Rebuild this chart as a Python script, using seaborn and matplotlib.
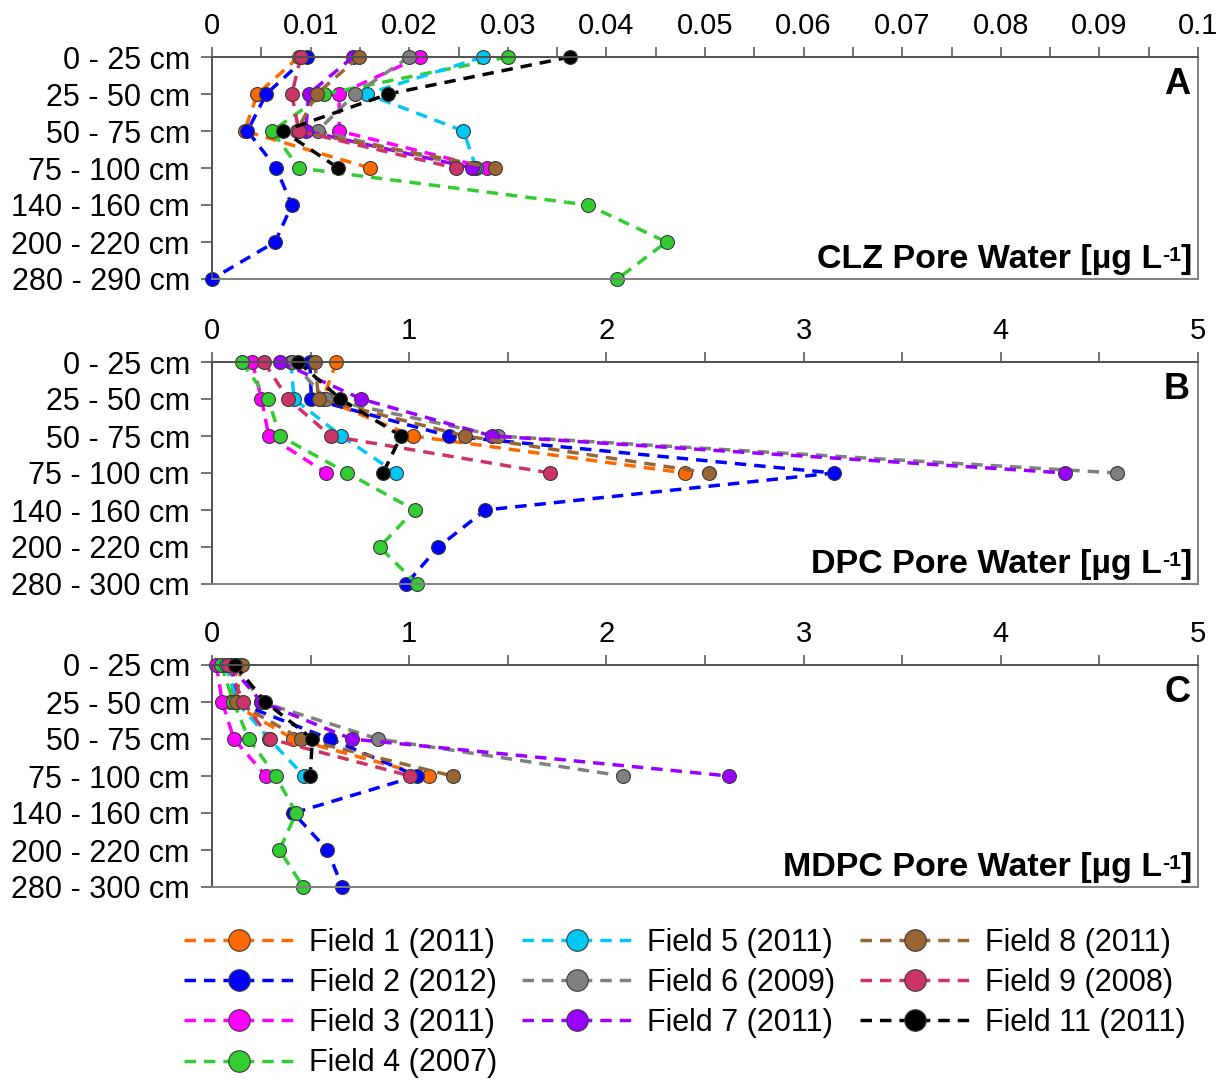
import matplotlib
matplotlib.use("Agg")
import matplotlib.pyplot as plt
from matplotlib.lines import Line2D
from matplotlib.ticker import MultipleLocator, FuncFormatter
import seaborn as sns
import numpy as np

# ---- depth categories -------------------------------------------------
depths_clz = ["0 - 25 cm", "25 - 50 cm", "50 - 75 cm", "75 - 100 cm",
              "140 - 160 cm", "200 - 220 cm", "280 - 290 cm"]
depths_dpc = ["0 - 25 cm", "25 - 50 cm", "50 - 75 cm", "75 - 100 cm",
              "140 - 160 cm", "200 - 220 cm", "280 - 300 cm"]

fields = ["Field 1 (2011)", "Field 2 (2012)", "Field 3 (2011)", "Field 4 (2007)",
          "Field 5 (2011)", "Field 6 (2009)", "Field 7 (2011)", "Field 8 (2011)",
          "Field 9 (2008)", "Field 11 (2011)"]
colors = ["#FF6A00", "#0000FF", "#FF00FF", "#33CC33", "#00C8F5",
          "#808080", "#9900FF", "#996633", "#CC3366", "#000000"]

# ---- CLZ pore water [ug/L] --------------------------------------------
clz_f1 = [0.0088, 0.0046, 0.0033, 0.0160]
clz_f2 = [0.0096, 0.0055, 0.0036, 0.0065, 0.0081, 0.0064, 0.0000]
clz_f3 = [0.0211, 0.0129, 0.0129, 0.0279]
clz_f4 = [0.0300, 0.0114, 0.0061, 0.0088, 0.0381, 0.0461, 0.0411]
clz_f5 = [0.0275, 0.0157, 0.0255, 0.0268]
clz_f6 = [0.0200, 0.0145, 0.0107, 0.0266]
clz_f7 = [0.0143, 0.0098, 0.0095, 0.0264]
clz_f8 = [0.0149, 0.0106, 0.0086, 0.0287]
clz_f9 = [0.0090, 0.0081, 0.0088, 0.0247]
clz_f11 = [0.0363, 0.0179, 0.0072, 0.0128]

# ---- DPC pore water [ug/L] --------------------------------------------
dpc_f1 = [0.631, 0.563, 1.018, 2.397]
dpc_f2 = [0.496, 0.504, 1.204, 3.153, 1.386, 1.148, 0.985]
dpc_f3 = [0.204, 0.251, 0.288, 0.580]
dpc_f4 = [0.150, 0.285, 0.344, 0.686, 1.027, 0.850, 1.039]
dpc_f5 = [0.400, 0.416, 0.656, 0.934]
dpc_f6 = [0.408, 0.577, 1.448, 4.589]
dpc_f7 = [0.344, 0.757, 1.420, 4.328]
dpc_f8 = [0.521, 0.541, 1.283, 2.520]
dpc_f9 = [0.263, 0.386, 0.602, 1.713]
dpc_f11 = [0.437, 0.651, 0.959, 0.867]

# ---- MDPC pore water [ug/L] -------------------------------------------
mdpc_f1 = [0.130, 0.090, 0.413, 1.100]
mdpc_f2 = [0.100, 0.120, 0.599, 1.040, 0.413, 0.585, 0.661]
mdpc_f3 = [0.022, 0.052, 0.111, 0.274]
mdpc_f4 = [0.047, 0.108, 0.187, 0.323, 0.427, 0.342, 0.463]
mdpc_f5 = [0.070, 0.128, 0.290, 0.467]
mdpc_f6 = [0.120, 0.250, 0.843, 2.084]
mdpc_f7 = [0.090, 0.250, 0.708, 2.620]
mdpc_f8 = [0.150, 0.120, 0.453, 1.220]
mdpc_f9 = [0.081, 0.158, 0.296, 1.006]
mdpc_f11 = [0.115, 0.271, 0.509, 0.498]

panels = [
    dict(series=[clz_f1, clz_f2, clz_f3, clz_f4, clz_f5, clz_f6, clz_f7, clz_f8, clz_f9, clz_f11],
         depths=depths_clz, xmax=0.1, major=0.01, minor=0.005,
         letter="A", title="CLZ Pore Water [µg L"),
    dict(series=[dpc_f1, dpc_f2, dpc_f3, dpc_f4, dpc_f5, dpc_f6, dpc_f7, dpc_f8, dpc_f9, dpc_f11],
         depths=depths_dpc, xmax=5, major=1, minor=0.5,
         letter="B", title="DPC Pore Water [µg L"),
    dict(series=[mdpc_f1, mdpc_f2, mdpc_f3, mdpc_f4, mdpc_f5, mdpc_f6, mdpc_f7, mdpc_f8, mdpc_f9, mdpc_f11],
         depths=depths_dpc, xmax=5, major=1, minor=0.5,
         letter="C", title="MDPC Pore Water [µg L"),
]

sns.set_theme(style="white")
plt.rcParams["font.family"] = ["Liberation Sans", "DejaVu Sans"]
plt.rcParams["text.color"] = "black"

W, H = 1226, 1082
fig = plt.figure(figsize=(W / 100, H / 100), dpi=100)

ax_left, ax_right = 212, 1198
tops = [57, 362, 665]
ax_h = 222

dash = (0, (3.3, 2.3))
spine_col = "#808080"
ylab_fs = 22
xlab_fs = 21
title_fs = 24.5

for p, top in zip(panels, tops):
    ax = fig.add_axes([ax_left / W, 1 - (top + ax_h) / H,
                       (ax_right - ax_left) / W, ax_h / H])
    for vals, col in zip(p["series"], colors):
        depth_idx = np.arange(len(vals))
        sns.lineplot(x=vals, y=depth_idx, orient="y", ax=ax, color=col,
                     linestyle=dash, linewidth=2.5, marker="o", markersize=10,
                     markeredgecolor="#3a3a3a", markeredgewidth=0.8,
                     clip_on=False, legend=False)
    ax.set_xlim(0, p["xmax"])
    ax.set_ylim(6, 0)
    ax.set_yticks(range(7))
    ax.set_yticklabels(p["depths"])
    ax.xaxis.tick_top()
    ax.xaxis.set_major_locator(MultipleLocator(p["major"]))
    ax.xaxis.set_minor_locator(MultipleLocator(p["minor"]))
    ax.xaxis.set_major_formatter(FuncFormatter(lambda v, pos: f"{v:g}"))
    ax.tick_params(axis="x", which="both", direction="out", length=7, width=1.1,
                   color="#505050", labelcolor="black", labelsize=xlab_fs, pad=5,
                   top=True, bottom=False)
    ax.tick_params(axis="y", which="major", direction="out", length=8, width=1.1,
                   color="#505050", labelcolor="black", labelsize=ylab_fs, pad=8,
                   left=True, right=False)
    ax.set_xlabel("")
    ax.set_ylabel("")
    for s in ax.spines.values():
        s.set_visible(True)
        s.set_color(spine_col)
        s.set_linewidth(1.4)
    ax.spines["top"].set_color("#505050")
    ax.spines["left"].set_color("#505050")
    ax.grid(False)
    ax.text(0.992, 0.875, p["letter"], transform=ax.transAxes, ha="right",
            va="center", fontsize=26, fontweight="bold", color="black")
    # unit label built right-to-left: "]" then raised "-1" then the main text
    t_close = ax.text(0.994, 0.02, "]", transform=ax.transAxes, ha="right",
                      va="bottom", fontsize=title_fs, fontweight="bold", color="black")
    t_sup = ax.annotate("-1", xy=(0, 0.92), xycoords=t_close, ha="right",
                        va="top", fontsize=title_fs * 0.62, fontweight="bold",
                        color="black")
    ax.annotate(p["title"], xy=(0, 0), xycoords=(t_sup, t_close), ha="right",
                va="bottom", fontsize=title_fs, fontweight="bold", color="black")

handles = [Line2D([0], [0], color=c, linestyle=dash, linewidth=2.5, marker="o",
                  markersize=15.5, markeredgecolor="#3a3a3a", markeredgewidth=0.8)
           for c in colors]
leg = fig.legend(handles, fields, loc="upper left", bbox_to_anchor=(184 / W, 1 - 928 / H),
                 ncol=3, frameon=False, fontsize=ylab_fs, handlelength=3.6,
                 handletextpad=0.5, columnspacing=0.8, labelspacing=0.33,
                 borderpad=0, borderaxespad=0)
for t in leg.get_texts():
    t.set_color("black")

fig.savefig("out.png", dpi=100)
